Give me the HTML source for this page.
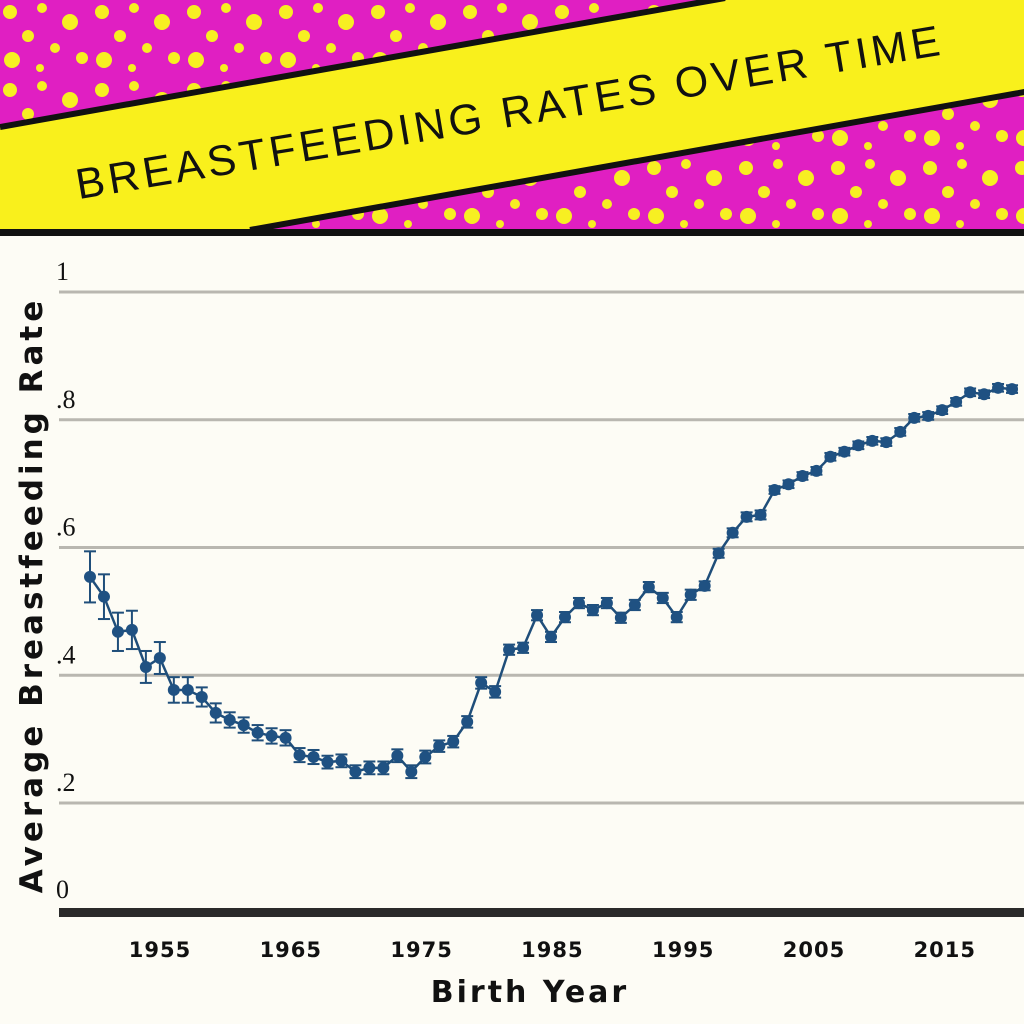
<!DOCTYPE html>
<html><head><meta charset="utf-8"><style>
html,body{margin:0;padding:0;}
body{width:1024px;height:1024px;overflow:hidden;background:#fdfcf5;}
svg{display:block;}
</style></head><body>
<svg id="chart" width="1024" height="1024" viewBox="0 0 1024 1024" xmlns="http://www.w3.org/2000/svg">
<defs>
<pattern id="dots" width="92" height="78" patternUnits="userSpaceOnUse">
<rect width="92" height="78" fill="#e01fc2"/>
<circle cx="10" cy="12" r="7" fill="#f7ef22"/><circle cx="42" cy="8" r="5" fill="#f7ef22"/>
<circle cx="70" cy="22" r="8" fill="#f7ef22"/><circle cx="28" cy="36" r="6" fill="#f7ef22"/>
<circle cx="55" cy="48" r="5" fill="#f7ef22"/><circle cx="12" cy="60" r="8" fill="#f7ef22"/>
<circle cx="82" cy="58" r="6" fill="#f7ef22"/><circle cx="40" cy="68" r="4" fill="#f7ef22"/>
</pattern>
</defs>
<g>
<rect x="0" y="0" width="1024" height="234" fill="url(#dots)"/>
<polygon points="0,127 718,0 1024,0 1024,92 250,230 0,230" fill="#f9f01c"/>
<line x1="0" y1="127" x2="725" y2="-2" stroke="#111" stroke-width="6"/>
<line x1="250" y1="230" x2="1030" y2="91" stroke="#111" stroke-width="6"/>
<rect x="0" y="229" width="1024" height="7" fill="#111"/>
<text x="510" y="127" text-anchor="middle" transform="rotate(-9.5 510 127)" font-family="Liberation Sans, DejaVu Sans, sans-serif" font-size="43" textLength="875" lengthAdjust="spacing" fill="#111">BREASTFEEDING RATES OVER TIME</text>
</g>
<rect x="0" y="236" width="1024" height="788" fill="#fdfcf5"/>
<g id="grid"></g>
<g id="series"></g>
<rect x="59" y="908" width="965" height="9" fill="#2a2a2a"/>
<g id="xticks"></g>
<text x="530" y="1002" text-anchor="middle" font-family="DejaVu Sans, Liberation Sans, sans-serif" font-weight="bold" font-size="30" letter-spacing="3" fill="#111">Birth Year</text>
<text transform="translate(42 595) rotate(-90)" text-anchor="middle" font-family="DejaVu Sans, Liberation Sans, sans-serif" font-weight="bold" font-size="31" letter-spacing="4" fill="#111">Average Breastfeeding Rate</text>
</svg>
<script>
const years = [];
for (let y = 1950; y <= 2016; y++) years.push(y);
const rates = [.554,.523,.468,.471,.413,.427,.377,.377,.366,.341,.330,.322,.310,.305,.302,.275,.272,.264,.266,.249,.255,.255,.274,.249,.272,.289,.296,.327,.388,.374,.440,.443,.494,.460,.491,.513,.502,.513,.490,.510,.538,.521,.491,.526,.540,.591,.623,.648,.651,.690,.699,.712,.720,.742,.750,.760,.767,.765,.781,.803,.806,.815,.828,.843,.840,.850,.848];
const errs = [.04,.035,.03,.03,.025,.025,.02,.02,.015,.015,.012,.012,.012,.012,.012,.011,.011,.01,.01,.01,.01,.01,.01,.01,.01,.009,.009,.009,.009,.009,.008,.008,.008,.008,.008,.008,.008,.008,.008,.008,.008,.008,.008,.008,.007,.007,.007,.007,.007,.006,.006,.006,.006,.006,.006,.006,.006,.006,.006,.006,.006,.006,.006,.006,.006,.006,.006];
const yTicks = [0, .2, .4, .6, .8, 1];
const yTickLabels = ["0", ".2", ".4", ".6", ".8", "1"];
const xTicks = [1955, 1965, 1975, 1985, 1995, 2005, 2015];

const NS = "http://www.w3.org/2000/svg";
function xScale(yr){ return 90 + (yr - 1950) * 13.97; }
function xLabelScale(yr){ return 160 + (yr - 1955) * 13.08; }
function yScale(v){ return 292 + (1 - v) * 638.75; }
function mk(tag, attrs){ const e = document.createElementNS(NS, tag); for (const k in attrs) e.setAttribute(k, attrs[k]); return e; }

const grid = document.getElementById('grid');
yTicks.forEach((t, i) => {
  if (t > 0) {
    const l = mk('line', {x1: 59, x2: 1024, y1: yScale(t), y2: yScale(t), stroke: '#b9b7b0', 'stroke-width': 3});
    
    
    grid.appendChild(l);
  }
  const tx = mk('text', {x: 56, y: t > 0 ? yScale(t) - 12 : 898, 'font-family': 'Liberation Serif, serif', 'font-size': 26, fill: '#111'});
  tx.textContent = yTickLabels[i];
  
  
  grid.appendChild(tx);
});

const xt = document.getElementById('xticks');
xTicks.forEach(t => {
  const tx = mk('text', {x: xLabelScale(t), y: 957, 'text-anchor': 'middle', 'font-family': 'DejaVu Sans, Liberation Sans, sans-serif', 'font-weight': 'bold', 'font-size': 21, 'letter-spacing': 1, fill: '#111'});
  tx.textContent = t;
  
  
  xt.appendChild(tx);
});

const s = document.getElementById('series');
const pts = years.map((yr, i) => xScale(yr) + ',' + yScale(rates[i])).join(' ');
const line = mk('polyline', {points: pts, fill: 'none', stroke: '#1f4e7a', 'stroke-width': 2.5});


s.appendChild(line);
years.forEach((yr, i) => {
  const x = xScale(yr), y1 = yScale(rates[i] + errs[i]), y2 = yScale(rates[i] - errs[i]);
  const g = mk('g', {});
  
  
  g.appendChild(mk('line', {x1: x, x2: x, y1: y1, y2: y2, stroke: '#1f4e7a', 'stroke-width': 2}));
  g.appendChild(mk('line', {x1: x - 6, x2: x + 6, y1: y1, y2: y1, stroke: '#1f4e7a', 'stroke-width': 2}));
  g.appendChild(mk('line', {x1: x - 6, x2: x + 6, y1: y2, y2: y2, stroke: '#1f4e7a', 'stroke-width': 2}));
  g.appendChild(mk('circle', {cx: x, cy: yScale(rates[i]), r: 6, fill: '#1f5182'}));
  s.appendChild(g);
});
</script>
</body></html>
